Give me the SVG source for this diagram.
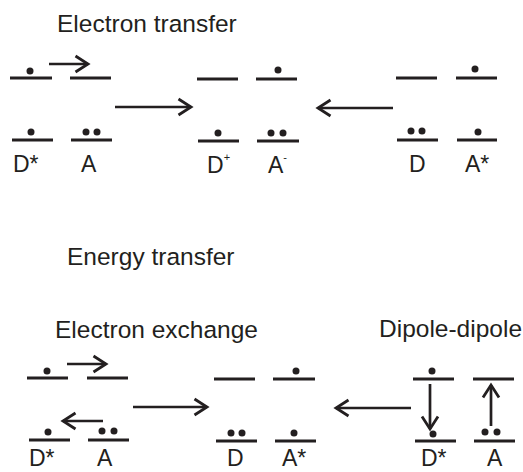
<svg xmlns="http://www.w3.org/2000/svg" width="523" height="472" viewBox="0 0 523 472">
  <style>
    .lvl { stroke: #231f20; stroke-width: 3; fill: none; }
    .arr { stroke: #231f20; stroke-width: 2.7; fill: none; marker-end: url(#ah); }
    .e { fill: #231f20; }
    .t { font-family: "Liberation Sans", Arial, sans-serif; font-size: 24.5px; fill: #231f20; }
    .lb { font-family: "Liberation Sans", Arial, sans-serif; font-size: 23px; fill: #231f20; }
    .sup { font-size: 11px; }
  </style>
  <defs>
    <marker id="ah" markerUnits="userSpaceOnUse" viewBox="-16 -10 20 20" markerWidth="20" markerHeight="20" refX="0" refY="0" orient="auto" overflow="visible">
      <path d="M-12.5,-8 L0,0 L-12.5,8" fill="none" stroke="#231f20" stroke-width="2.8"/>
    </marker>
  </defs>

  <!-- headings -->
  <g id="titles">
    <text class="t" x="57" y="32">Electron transfer</text>
    <text class="t" x="67" y="265">Energy transfer</text>
    <text class="t" x="55" y="338">Electron exchange</text>
    <text class="t" x="379" y="337">Dipole-dipole</text>
  </g>

  <!-- electron transfer: D* A (excited donor) -->
  <g id="et-start">
    <line class="lvl" x1="10" y1="78" x2="52" y2="78"/>
    <circle class="e" cx="30" cy="71" r="3.5"/>
    <line class="lvl" x1="70" y1="78" x2="111" y2="78"/>
    <line class="lvl" x1="12" y1="140" x2="53" y2="140"/>
    <circle class="e" cx="31" cy="132" r="3.5"/>
    <line class="lvl" x1="71" y1="140" x2="112" y2="140"/>
    <circle class="e" cx="86" cy="132" r="3.5"/>
    <circle class="e" cx="97" cy="132" r="3.5"/>
    <text class="lb" x="13" y="172">D*</text>
    <text class="lb" x="81" y="172">A</text>
  </g>

  <!-- electron transfer: charge separated D+ A- -->
  <g id="et-product">
    <line class="lvl" x1="197" y1="79" x2="238" y2="79"/>
    <line class="lvl" x1="256" y1="79" x2="297" y2="79"/>
    <circle class="e" cx="278" cy="70" r="3.5"/>
    <line class="lvl" x1="198" y1="141" x2="239" y2="141"/>
    <circle class="e" cx="218" cy="133" r="3.5"/>
    <line class="lvl" x1="257" y1="141" x2="299" y2="141"/>
    <circle class="e" cx="271" cy="133" r="3.5"/>
    <circle class="e" cx="283" cy="133" r="3.5"/>
    <text class="lb" x="207" y="173">D<tspan class="sup" dy="-12">+</tspan></text>
    <text class="lb" x="268" y="173">A<tspan class="sup" dy="-12">-</tspan></text>
  </g>

  <!-- electron transfer: D A* (excited acceptor) -->
  <g id="et-end">
    <line class="lvl" x1="396" y1="78" x2="437" y2="78"/>
    <line class="lvl" x1="456" y1="78" x2="497" y2="78"/>
    <circle class="e" cx="475" cy="69" r="3.5"/>
    <line class="lvl" x1="397" y1="140" x2="438" y2="140"/>
    <circle class="e" cx="411" cy="131" r="3.5"/>
    <circle class="e" cx="422" cy="131" r="3.5"/>
    <line class="lvl" x1="457" y1="140" x2="497" y2="140"/>
    <circle class="e" cx="478" cy="132" r="3.5"/>
    <text class="lb" x="409" y="172">D</text>
    <text class="lb" x="465" y="172">A*</text>
  </g>

  <!-- energy transfer, exchange: D* A -->
  <g id="ex-start">
    <line class="lvl" x1="27" y1="378" x2="68" y2="378"/>
    <circle class="e" cx="47" cy="371" r="3.5"/>
    <line class="lvl" x1="87" y1="378" x2="128" y2="378"/>
    <line class="lvl" x1="29" y1="440" x2="70" y2="440"/>
    <circle class="e" cx="48" cy="432" r="3.5"/>
    <line class="lvl" x1="88" y1="440" x2="129" y2="440"/>
    <circle class="e" cx="102" cy="431" r="3.5"/>
    <circle class="e" cx="114" cy="431" r="3.5"/>
    <text class="lb" x="29" y="466">D*</text>
    <text class="lb" x="97" y="466">A</text>
  </g>

  <!-- energy transfer product: D A* -->
  <g id="ex-product">
    <line class="lvl" x1="214" y1="379" x2="255" y2="379"/>
    <line class="lvl" x1="273" y1="379" x2="315" y2="379"/>
    <circle class="e" cx="296" cy="371" r="3.5"/>
    <line class="lvl" x1="216" y1="441" x2="257" y2="441"/>
    <circle class="e" cx="231" cy="433" r="3.5"/>
    <circle class="e" cx="242" cy="433" r="3.5"/>
    <line class="lvl" x1="275" y1="441" x2="316" y2="441"/>
    <circle class="e" cx="294" cy="433" r="3.5"/>
    <text class="lb" x="227" y="466">D</text>
    <text class="lb" x="282" y="466">A*</text>
  </g>

  <!-- energy transfer, dipole-dipole: D* A -->
  <g id="dd-start">
    <line class="lvl" x1="413" y1="379" x2="454" y2="379"/>
    <circle class="e" cx="432" cy="371" r="3.5"/>
    <line class="lvl" x1="473" y1="379" x2="514" y2="379"/>
    <line class="lvl" x1="415" y1="441" x2="456" y2="441"/>
    <circle class="e" cx="433" cy="434" r="3.5"/>
    <line class="lvl" x1="474" y1="441" x2="515" y2="441"/>
    <circle class="e" cx="485" cy="432" r="3.5"/>
    <circle class="e" cx="497" cy="432" r="3.5"/>
    <text class="lb" x="421" y="466">D*</text>
    <text class="lb" x="487" y="466">A</text>
  </g>

  <!-- arrows -->
  <g id="connectors">
    <line class="arr" x1="49" y1="64" x2="88" y2="64"/>
    <line class="arr" x1="115" y1="107" x2="191" y2="107"/>
    <line class="arr" x1="393" y1="108" x2="318" y2="108"/>
    <line class="arr" x1="67" y1="364" x2="106" y2="364"/>
    <line class="arr" x1="103" y1="421" x2="63" y2="421"/>
    <line class="arr" x1="133" y1="407" x2="207" y2="407"/>
    <line class="arr" x1="411" y1="408" x2="336" y2="408"/>
    <line class="arr" x1="430" y1="384" x2="430" y2="429"/>
    <line class="arr" x1="491" y1="426" x2="491" y2="385"/>
  </g>
</svg>
